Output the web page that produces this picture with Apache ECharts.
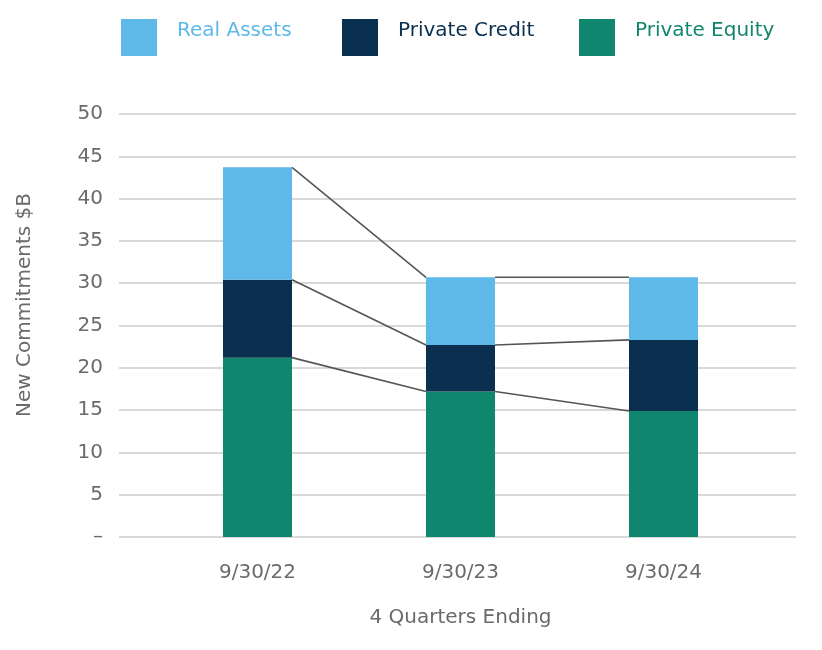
<!DOCTYPE html>
<html>
<head>
<meta charset="utf-8">
<script src="https://cdn.jsdelivr.net/npm/echarts@6/dist/echarts.min.js"></script>
<style>html,body{margin:0;padding:0;background:#fff;}#c{width:822px;height:650px;}</style>
</head>
<body>
<div id="c"></div>
<script>
const categories = ['9/30/22', '9/30/23', '9/30/24'];
const privateEquity = [21.2, 17.2, 14.9];
const privateCredit = [9.2, 5.5, 8.4];
const realAssets = [13.3, 8.0, 7.4];
const yTicks = [0, 5, 10, 15, 20, 25, 30, 35, 40, 45, 50];

const colors = { re: '#5EB9E9', pc: '#0A2F4F', pe: '#10866E' };
const FONT = 'DejaVu Sans';
const GRAY = '#6a6a6a';

// stack tops for connector lines
const layers = [privateEquity, privateCredit, realAssets];
const tops = [];
let acc = categories.map(() => 0);
layers.forEach(l => { acc = acc.map((v, i) => v + l[i]); tops.push(acc.slice()); });
const connData = [];
tops.forEach(t => { for (let i = 0; i < t.length - 1; i++) connData.push([i, t[i], t[i + 1]]); });

const chart = echarts.init(document.getElementById('c'));
const legendBase = { orient: 'horizontal', top: 14, itemWidth: 36, itemHeight: 37, icon: 'rect', itemGap: 20, selectedMode: false, formatter: '{t|{name}}' };
const legText = c => ({ color: c, fontSize: 20, fontFamily: FONT, rich: { t: { color: c, fontSize: 20, fontFamily: FONT, padding: [0, 0, 13, 15] } } });
chart.setOption({
  animation: false,
  textStyle: { fontFamily: FONT },
  legend: [
    Object.assign({}, legendBase, { left: 116, data: [{ name: 'Real Assets', textStyle: legText(colors.re) }] }),
    Object.assign({}, legendBase, { left: 337, data: [{ name: 'Private Credit', textStyle: legText(colors.pc) }] }),
    Object.assign({}, legendBase, { left: 574, data: [{ name: 'Private Equity', textStyle: legText(colors.pe) }] })
  ],
  graphic: [{
    type: 'text', rotation: Math.PI / 2,
    style: { text: 'New Commitments $B', fontSize: 20, fontFamily: FONT, fill: GRAY, textAlign: 'center', textVerticalAlign: 'middle' },
    x: 25, y: 305
  }],
  grid: [
    { left: 119, right: 26, top: 114, bottom: 113 },
    { left: 156, right: 57, top: 114, bottom: 113 }
  ],
  xAxis: [
    { gridIndex: 0, type: 'value', show: false, min: 0, max: 1 },
    {
      gridIndex: 1, type: 'category', data: categories,
      axisLine: { show: false }, axisTick: { show: false },
      axisLabel: { color: GRAY, fontSize: 20, margin: 26, fontFamily: FONT },
      name: '4 Quarters Ending', nameLocation: 'middle', nameGap: 71,
      nameTextStyle: { color: GRAY, fontSize: 20, fontFamily: FONT }
    }
  ],
  yAxis: [
    {
      gridIndex: 0, type: 'value', min: 0, max: 50, interval: 5,
      axisLine: { show: false }, axisTick: { show: false },
      axisLabel: { color: GRAY, fontSize: 20, margin: 16, fontFamily: FONT, formatter: v => (v === 0 ? '–' : String(v)) },
      splitLine: { lineStyle: { color: '#D9D9D9', width: 2 } }
    },
    { gridIndex: 1, type: 'value', min: 0, max: 50, interval: 5, show: false, splitLine: { show: false } }
  ],
  series: [
    { name: 'Private Equity', type: 'bar', stack: 's', xAxisIndex: 1, yAxisIndex: 1, barWidth: '34%', data: privateEquity, itemStyle: { color: colors.pe } },
    { name: 'Private Credit', type: 'bar', stack: 's', xAxisIndex: 1, yAxisIndex: 1, barWidth: '34%', data: privateCredit, itemStyle: { color: colors.pc } },
    { name: 'Real Assets', type: 'bar', stack: 's', xAxisIndex: 1, yAxisIndex: 1, barWidth: '34%', data: realAssets, itemStyle: { color: colors.re } },
    {
      type: 'custom', xAxisIndex: 1, yAxisIndex: 1, data: connData, z: 5, silent: true,
      encode: { x: 0, y: [1, 2] },
      renderItem: function (params, api) {
        const i = api.value(0);
        const band = api.size([1, 0])[0];
        const half = band * 0.17;
        const p1 = api.coord([i, api.value(1)]);
        const p2 = api.coord([i + 1, api.value(2)]);
        return {
          type: 'line',
          shape: { x1: p1[0] + half, y1: p1[1], x2: p2[0] - half, y2: p2[1] },
          style: { stroke: '#555', lineWidth: 1.6 }
        };
      }
    }
  ]
});
</script>
</body>
</html>
